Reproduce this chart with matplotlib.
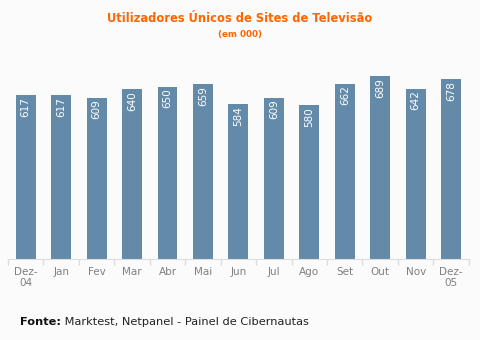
import numpy as np
import matplotlib.pyplot as plt

meses = ["Dez-\n04", "Jan", "Fev", "Mar", "Abr", "Mai", "Jun", "Jul", "Ago",
         "Set", "Out", "Nov", "Dez-\n05"]
utilizadores = [617, 617, 609, 640, 650, 659, 584, 609, 580, 662, 689, 642, 678]

bg = '#fbfbfb'
fig = plt.figure(figsize=(4.8, 3.4), dpi=100, facecolor=bg)
ax = fig.add_axes([0.0167, 0.238, 0.96, 0.585], facecolor=bg)

x = np.arange(len(meses))
ax.bar(x, utilizadores, width=0.56, color='#648aaa')

# valores dentro das barras, rodados
for xi, v in zip(x, utilizadores):
    ax.text(xi, v - 6, str(v), rotation=90, ha='center', va='top',
            color='white', fontsize=7.5)

ax.set_xlim(-0.5, len(meses) - 0.5)
ax.set_ylim(0, 750)
ax.set_yticks([])
ax.set_xticks(x)
ax.set_xticklabels(meses, fontsize=7.5, color='#808080', linespacing=1.1)
ax.set_xticks(np.arange(-0.5, len(meses)), minor=True)
ax.tick_params(axis='x', which='major', length=0, pad=6)
ax.tick_params(axis='x', which='minor', length=4, color='#dddddd', width=1)

for s in ['top', 'right', 'left']:
    ax.spines[s].set_visible(False)
ax.spines['bottom'].set_color('#dddddd')

fig.text(0.5, 0.935, "Utilizadores Únicos de Sites de Televisão", ha='center',
         color='#ff6600', fontsize=8.3, fontweight='bold')
fig.text(0.5, 0.89, "(em 000)", ha='center', color='#ff6600', fontsize=6.3,
         fontweight='bold')

t1 = fig.text(0.042, 0.045, "Fonte:", ha='left', fontsize=8.2,
              fontweight='bold', color='#111111')
ax.annotate(" Marktest, Netpanel - Painel de Cibernautas",
            xy=(1, 0), xycoords=t1, va='bottom', ha='left',
            fontsize=8.2, color='#222222', annotation_clip=False)

fig.savefig('out.png', dpi=100, facecolor=bg)
